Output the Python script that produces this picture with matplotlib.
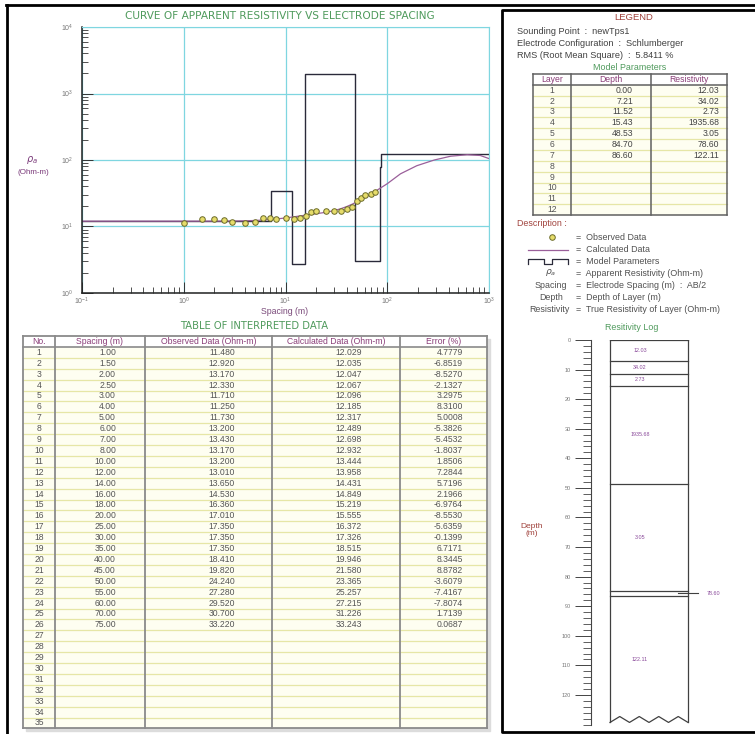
import numpy as np
import matplotlib.pyplot as plt
from matplotlib.patches import Rectangle
from matplotlib.ticker import MultipleLocator, LogLocator, NullFormatter

plt.rcParams['font.family'] = ['Liberation Sans', 'DejaVu Sans']
plt.rcParams['mathtext.fontset'] = 'dejavusans'

# ---- data ----
spacing = [1.00, 1.50, 2.00, 2.50, 3.00, 4.00, 5.00, 6.00, 7.00, 8.00, 10.00, 12.00, 14.00,
           16.00, 18.00, 20.00, 25.00, 30.00, 35.00, 40.00, 45.00, 50.00, 55.00, 60.00, 70.00, 75.00]
observed = [11.480, 12.920, 13.170, 12.330, 11.710, 11.250, 11.730, 13.200, 13.430, 13.170,
            13.200, 13.010, 13.650, 14.530, 16.360, 17.010, 17.350, 17.350, 17.350, 18.410,
            19.820, 24.240, 27.280, 29.520, 30.700, 33.220]
calculated = [12.029, 12.035, 12.047, 12.067, 12.096, 12.185, 12.317, 12.489, 12.698, 12.932,
              13.444, 13.958, 14.431, 14.849, 15.219, 15.555, 16.372, 17.326, 18.515, 19.946,
              21.580, 23.365, 25.257, 27.215, 31.226, 33.243]
error_pct = [4.7779, -6.8519, -8.5270, -2.1327, 3.2975, 8.3100, 5.0008, -5.3826, -5.4532, -1.8037,
             1.8506, 7.2844, 5.7196, 2.1966, -6.9764, -8.5530, -5.6359, -0.1399, 6.7171, 8.3445,
             8.8782, -3.6079, -7.4167, -7.8074, 1.7139, 0.0687]

# calculated curve outside the tabulated spacings (estimated from the plot)
calc_left_x = [0.1, 0.3, 0.6]
calc_left_y = [12.03, 12.03, 12.03]
calc_right_x = [100, 135, 195, 290, 420, 610, 820, 1000]
calc_right_y = [44, 62, 82, 100, 114, 120, 117, 105]

layer_no = [1, 2, 3, 4, 5, 6, 7]
layer_depth = [0.00, 7.21, 11.52, 15.43, 48.53, 84.70, 86.60]
layer_res = [12.03, 34.02, 2.73, 1935.68, 3.05, 78.60, 122.11]

sounding_point = 'newTps1'
electrode_conf = 'Schlumberger'
rms = 5.8411

# ---- colours ----
GREEN = '#4f9a5c'
MAROON = '#a0423c'
PURPLE = '#8a3d78'
GRAYTXT = '#555555'
CYAN = '#7fd6e0'
CALC = '#9a5f9a'

W, H = 755, 734
fig = plt.figure(figsize=(W / 100, H / 100), dpi=100)


def px_axes(l, t, r, b):
    return fig.add_axes([l / W, 1 - b / H, (r - l) / W, (b - t) / H])


# pixel canvas for frames, tables and legend
bg = px_axes(0, 0, W, H)
bg.set_xlim(0, W)
bg.set_ylim(H, 0)
bg.axis('off')

bg.plot([7, 7], [5, H], color='black', lw=2)
bg.plot([6, W], [5, 5], color='black', lw=2)
bg.plot([W, 502, 502, W], [10, 10, 732, 732], color='black', lw=2)

# ---- apparent resistivity curve ----
bg.text(280, 16, 'CURVE OF APPARENT RESISTIVITY VS ELECTRODE SPACING', color=GREEN,
        fontsize=7.6, ha='center', va='center', family=['DejaVu Sans'])
ax = px_axes(82, 27, 489, 293)
ax.set_xscale('log')
ax.set_yscale('log')
ax.set_xlim(0.1, 1000)
ax.set_ylim(1, 10000)
ax.grid(True, which='major', color=CYAN, lw=0.9)
for s in ['top', 'right']:
    ax.spines[s].set_color(CYAN)
for s in ['left', 'bottom']:
    ax.spines[s].set_color('#222222')
    ax.spines[s].set_linewidth(1.1)
ax.xaxis.set_major_locator(LogLocator(base=10, numticks=10))
ax.yaxis.set_major_locator(LogLocator(base=10, numticks=10))
ax.xaxis.set_minor_locator(LogLocator(base=10, subs=np.arange(2, 10), numticks=20))
ax.yaxis.set_minor_locator(LogLocator(base=10, subs=np.arange(2, 10), numticks=20))
ax.xaxis.set_minor_formatter(NullFormatter())
ax.yaxis.set_minor_formatter(NullFormatter())
ax.tick_params(which='both', direction='in', color='#333333', top=False, right=False,
               labelsize=5, labelcolor='#777777')
ax.tick_params(which='major', length=8, width=0.7)
ax.tick_params(which='minor', length=4.5, width=0.6)
ax.tick_params(axis='y', pad=6)
ax.tick_params(axis='x', pad=2)

edges = [0.1] + layer_depth[1:] + [1000]
ax.step(edges, layer_res + [layer_res[-1]], where='post', color='#2a2a3a', lw=1)
ax.plot(calc_left_x + spacing + calc_right_x, calc_left_y + calculated + calc_right_y,
        color=CALC, lw=0.9)
ax.plot(spacing, observed, 'o', ms=4, mfc='#e6dc6a', mec='#6b6b2a', mew=0.7)

bg.text(32, 160, r'$\rho_a$', color='#7a3a7a', fontsize=7, ha='center', va='center')
bg.text(33, 172, '(Ohm-m)', color='#7a3a7a', fontsize=5.8, ha='center', va='center')
bg.text(285, 311, 'Spacing (m)', color='#7a4a7a', fontsize=6.3, ha='center', va='center')

# ---- table of interpreted data ----
bg.text(254, 326, 'TABLE OF INTERPRETED DATA', color=GREEN, fontsize=7.2,
        ha='center', va='center', family=['DejaVu Sans'])
cols = [23, 55, 145, 272, 400, 487]
tt, rh, nrows = 336, 10.9, 35
tb = tt + rh * (nrows + 1)
bg.add_patch(Rectangle((cols[0] + 3, tt + 3), cols[-1] - cols[0], tb - tt, color='#dcdcdc', zorder=0))
bg.add_patch(Rectangle((cols[0], tt), cols[-1] - cols[0], tb - tt, facecolor='#fefef1', edgecolor='none', zorder=1))
bg.add_patch(Rectangle((cols[0], tt), cols[-1] - cols[0], rh, facecolor='white', edgecolor='none', zorder=1))
for k in range(2, nrows + 1):
    bg.plot([cols[0], cols[-1]], [tt + k * rh] * 2, color='#e6e6a6', lw=0.9, zorder=2)
bg.plot([cols[0], cols[-1]], [tt + rh] * 2, color='#8a8a8a', lw=1.2, zorder=3)
for x in cols:
    bg.plot([x, x], [tt, tb], color='#8a8a8a', lw=1.3, zorder=3)
bg.plot([cols[0], cols[-1]], [tt, tt], color='#8a8a8a', lw=1.3, zorder=3)
bg.plot([cols[0], cols[-1]], [tb, tb], color='#8a8a8a', lw=1.3, zorder=3)

headers = ['No.', 'Spacing (m)', 'Observed Data (Ohm-m)', 'Calculated Data (Ohm-m)', 'Error (%)']
for i, h in enumerate(headers):
    bg.text((cols[i] + cols[i + 1]) / 2, tt + rh / 2, h, color=PURPLE, fontsize=6.2,
            ha='center', va='center', zorder=4)
for k in range(nrows):
    y = tt + (k + 1.5) * rh
    bg.text(39, y, str(k + 1), color=GRAYTXT, fontsize=6.2, ha='center', va='center', zorder=4)
    if k < len(spacing):
        bg.text(116, y, f'{spacing[k]:.2f}', color=GRAYTXT, fontsize=6.2, ha='right', va='center', zorder=4)
        bg.text(235, y, f'{observed[k]:.3f}', color=GRAYTXT, fontsize=6.2, ha='right', va='center', zorder=4)
        bg.text(362, y, f'{calculated[k]:.3f}', color=GRAYTXT, fontsize=6.2, ha='right', va='center', zorder=4)
        bg.text(463, y, f'{error_pct[k]:.4f}', color=GRAYTXT, fontsize=6.2, ha='right', va='center', zorder=4)

# ---- legend panel ----
bg.text(634, 17, 'LEGEND', color=MAROON, fontsize=6.8, ha='center', va='center')
bg.text(517, 31, f'Sounding Point  :  {sounding_point}', color='#404040', fontsize=6.6, va='center')
bg.text(517, 43, f'Electrode Configuration  :  {electrode_conf}', color='#404040', fontsize=6.6, va='center')
bg.text(517, 55, f'RMS (Root Mean Square)  :  {rms:.4f} %', color='#404040', fontsize=6.6, va='center')
bg.text(630, 67, 'Model Parameters', color=GREEN, fontsize=6.4, ha='center', va='center')

mcols = [533, 571, 651, 727]
mt, mrh, mrows = 74, 10.85, 12
mb = mt + mrh * (mrows + 1)
bg.add_patch(Rectangle((mcols[0], mt), mcols[-1] - mcols[0], mb - mt, facecolor='#fefef1', edgecolor='none', zorder=1))
bg.add_patch(Rectangle((mcols[0], mt), mcols[-1] - mcols[0], mrh, facecolor='white', edgecolor='none', zorder=1))
for k in range(2, mrows + 1):
    bg.plot([mcols[0], mcols[-1]], [mt + k * mrh] * 2, color='#e6e6a6', lw=0.9, zorder=2)
bg.plot([mcols[0], mcols[-1]], [mt + mrh] * 2, color='#606060', lw=1.1, zorder=3)
for x in mcols:
    bg.plot([x, x], [mt, mb], color='#606060', lw=1.1, zorder=3)
bg.plot([mcols[0], mcols[-1]], [mt, mt], color='#606060', lw=1.1, zorder=3)
bg.plot([mcols[0], mcols[-1]], [mb, mb], color='#606060', lw=1.1, zorder=3)
for i, h in enumerate(['Layer', 'Depth', 'Resistivity']):
    bg.text((mcols[i] + mcols[i + 1]) / 2, mt + mrh / 2, h, color=PURPLE, fontsize=6.2,
            ha='center', va='center', zorder=4)
for k in range(mrows):
    y = mt + (k + 1.5) * mrh
    bg.text(552, y, str(k + 1), color=GRAYTXT, fontsize=6.2, ha='center', va='center', zorder=4)
    if k < len(layer_no):
        bg.text(633, y, f'{layer_depth[k]:.2f}', color='#444444', fontsize=6.2, ha='right', va='center', zorder=4)
        bg.text(719, y, f'{layer_res[k]:.2f}', color='#444444', fontsize=6.2, ha='right', va='center', zorder=4)

bg.text(517, 223, 'Description :', color=MAROON, fontsize=6.4, va='center')
desc = [('Observed Data', 237), ('Calculated Data', 250), ('Model Parameters', 261),
        ('Apparent Resistivity (Ohm-m)', 273), ('Electrode Spacing (m)  :  AB/2', 285),
        ('Depth of Layer (m)', 297), ('True Resistivity of Layer (Ohm-m)', 309)]
for text, y in desc:
    bg.text(576, y, '=  ' + text, color='#505050', fontsize=6.4, va='center')
bg.plot([552], [237], 'o', ms=4, mfc='#e6dc6a', mec='#6b6b2a', mew=0.7)
bg.plot([528, 568], [250, 250], color=CALC, lw=0.9)
bg.plot([528, 528, 544, 544, 552, 552, 568, 568], [264, 259, 259, 264, 264, 259, 259, 264],
        color='#2a2a3a', lw=0.9)
bg.text(551, 273, r'$\rho_a$', color='#505050', fontsize=6.6, ha='center', va='center')
bg.text(551, 285, 'Spacing', color='#505050', fontsize=6.4, ha='center', va='center')
bg.text(551, 297, 'Depth', color='#505050', fontsize=6.4, ha='center', va='center')
bg.text(549, 309, 'Resistivity', color='#505050', fontsize=6.4, ha='center', va='center')

# ---- resistivity log ----
bg.text(632, 327, 'Resitivity Log', color=GREEN, fontsize=6.4, ha='center', va='center')
bg.text(532, 530, 'Depth\n(m)', color=MAROON, fontsize=6, ha='center', va='center', linespacing=1.1)

lg = px_axes(591, 340, 745, 724.5)
lg.set_xlim(591, 745)
lg.set_ylim(130, 0)
lg.patch.set_alpha(0)
for s in ['top', 'right', 'bottom']:
    lg.spines[s].set_visible(False)
lg.spines['left'].set_color('#444444')
lg.yaxis.set_major_locator(MultipleLocator(10))
lg.yaxis.set_minor_locator(MultipleLocator(2))
lg.set_yticks(np.arange(0, 121, 10))
lg.set_xticks([])
lg.tick_params(axis='y', which='major', direction='out', length=11.5, width=0.7,
               color='#444444', labelsize=4, labelcolor='#777777', pad=3)
lg.tick_params(axis='y', which='minor', direction='out', length=6, width=0.6, color='#444444')

col_l, col_r = 610, 688
bottom_d, peak_d = 129.3, 127.3
lg.plot([col_l, col_l], [0, bottom_d], color='#404040', lw=0.9)
lg.plot([col_r, col_r], [0, bottom_d], color='#404040', lw=0.9)
for d in layer_depth:
    lg.plot([col_l, col_r], [d, d], color='#404040', lw=0.9)
zx = np.linspace(col_l, col_r, 9)
zy = [bottom_d if i % 2 == 0 else peak_d for i in range(9)]
lg.plot(zx, zy, color='#404040', lw=0.9)

tops = layer_depth
bots = layer_depth[1:] + [bottom_d]
for t, b, r in zip(tops, bots, layer_res):
    mid = (t + b) / 2
    if b - t > 3:
        lg.text(640, mid, f'{r:.2f}', color='#8a4a9a', fontsize=3.9, ha='center', va='center')
    else:
        lg.plot([678, 698], [mid, mid], color='#404040', lw=0.8)
        lg.text(707, mid, f'{r:.2f}', color='#8a4a9a', fontsize=3.9, ha='left', va='center')

fig.savefig('out.png', dpi=100)
